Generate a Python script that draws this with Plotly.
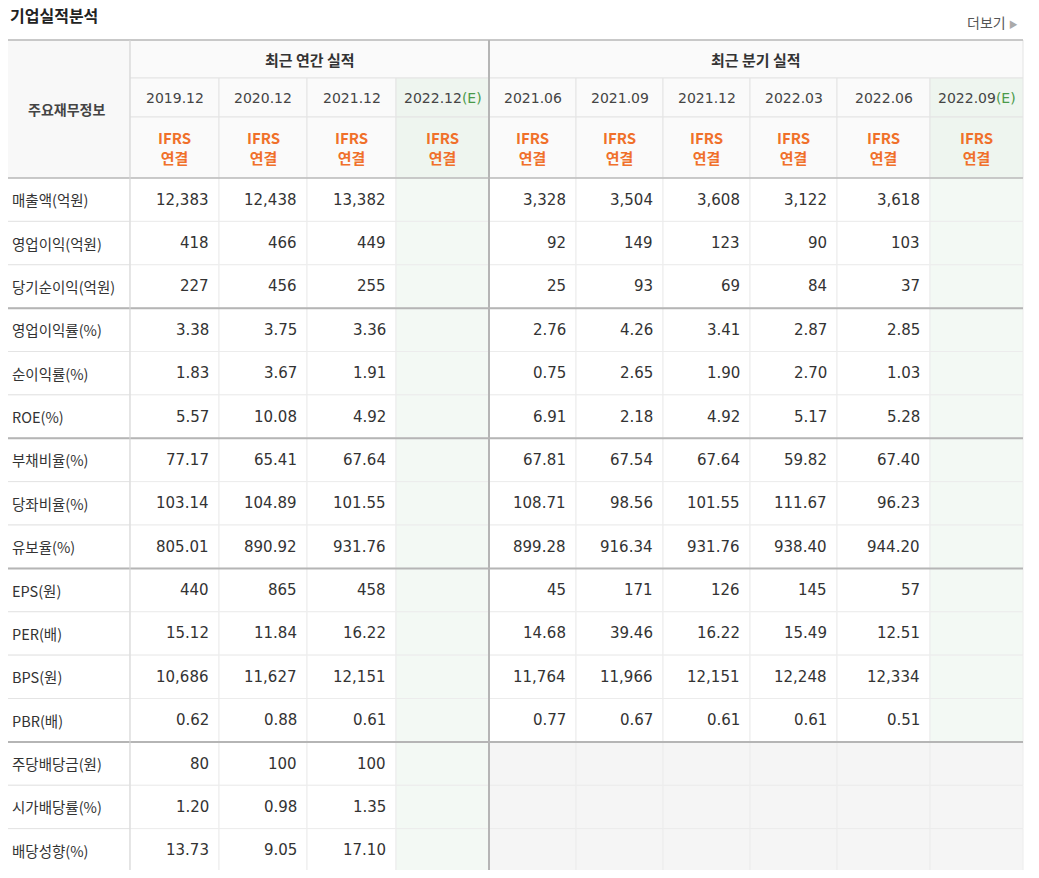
import plotly.graph_objects as go

title = "기업실적분석"
more = "더보기 ▸"
group_annual = "최근 연간 실적"
group_quarter = "최근 분기 실적"
corner = "주요재무정보"
annual_periods = ["2019.12", "2020.12", "2021.12", "2022.12(E)"]
quarter_periods = ["2021.06", "2021.09", "2021.12", "2022.03", "2022.06", "2022.09(E)"]
row_labels = ["매출액(억원)", "영업이익(억원)", "당기순이익(억원)", "영업이익률(%)", "순이익률(%)", "ROE(%)",
              "부채비율(%)", "당좌비율(%)", "유보율(%)", "EPS(원)", "PER(배)", "BPS(원)", "PBR(배)",
              "주당배당금(원)", "시가배당률(%)", "배당성향(%)"]
annual_values = [
    ["12,383", "12,438", "13,382", ""], ["418", "466", "449", ""], ["227", "456", "255", ""],
    ["3.38", "3.75", "3.36", ""], ["1.83", "3.67", "1.91", ""], ["5.57", "10.08", "4.92", ""],
    ["77.17", "65.41", "67.64", ""], ["103.14", "104.89", "101.55", ""], ["805.01", "890.92", "931.76", ""],
    ["440", "865", "458", ""], ["15.12", "11.84", "16.22", ""], ["10,686", "11,627", "12,151", ""],
    ["0.62", "0.88", "0.61", ""], ["80", "100", "100", ""], ["1.20", "0.98", "1.35", ""], ["13.73", "9.05", "17.10", ""],
]
quarter_values = [
    ["3,328", "3,504", "3,608", "3,122", "3,618", ""], ["92", "149", "123", "90", "103", ""],
    ["25", "93", "69", "84", "37", ""], ["2.76", "4.26", "3.41", "2.87", "2.85", ""],
    ["0.75", "2.65", "1.90", "2.70", "1.03", ""], ["6.91", "2.18", "4.92", "5.17", "5.28", ""],
    ["67.81", "67.54", "67.64", "59.82", "67.40", ""], ["108.71", "98.56", "101.55", "111.67", "96.23", ""],
    ["899.28", "916.34", "931.76", "938.40", "944.20", ""], ["45", "171", "126", "145", "57", ""],
    ["14.68", "39.46", "16.22", "15.49", "12.51", ""], ["11,764", "11,966", "12,151", "12,248", "12,334", ""],
    ["0.77", "0.67", "0.61", "0.61", "0.51", ""], ["", "", "", "", "", ""], ["", "", "", "", "", ""], ["", "", "", "", "", ""],
]
group_breaks = [3, 6, 9, 13]
dividend_start = 13

# layout geometry (page pixel coordinates; page body has an 8px margin)
W, H = 1039, 878
OFF = 8
col_edges = [2, 130, 219, 307, 396, 489, 576, 663, 750, 837, 930, 1023]
y_top, y_r1, y_r2, y_r3 = 40, 78, 117, 178
row_h = (872 - y_r3) / len(row_labels)

shapes, ann = [], []
KR = "Noto Sans CJK KR"
NUM = "DejaVu Sans"

def rect(x0, y0, x1, y1, fill, line="#e4e4e4"):
    shapes.append(dict(type="rect", x0=x0, y0=y0, x1=x1, y1=y1, fillcolor=fill,
                       line=dict(color=line, width=1), layer="below"))

def hline(x0, x1, y, color, w):
    shapes.append(dict(type="line", x0=x0, x1=x1, y0=y, y1=y, line=dict(color=color, width=w)))

def vline(x, y0, y1, color, w):
    shapes.append(dict(type="line", x0=x, x1=x, y0=y0, y1=y1, line=dict(color=color, width=w)))

def text(x, y, s, size=15, color="#333", font=KR, xanchor="center", bold=False):
    if bold:
        s = "<b>" + s + "</b>"
    ann.append(dict(x=x, y=y, text=s, showarrow=False, xanchor=xanchor, yanchor="middle",
                    font=dict(family=font, size=size, color=color)))

ncols = len(col_edges) - 1
rect(col_edges[0], y_top, col_edges[1], y_r3, "#f8f8f8")
rect(col_edges[1], y_top, col_edges[5], y_r1, "#fafafa")
rect(col_edges[5], y_top, col_edges[-1], y_r1, "#fafafa")
for c in range(1, ncols):
    x0, x1 = col_edges[c], col_edges[c + 1]
    fill = "#eef5ef" if c in (4, 10) else "#fafafa"
    rect(x0, y_r1, x1, y_r2, fill)
    rect(x0, y_r2, x1, y_r3, fill)

text((col_edges[0] + col_edges[1]) / 2, (y_top + y_r3) / 2, corner, 14, "#444", bold=True)
text((col_edges[1] + col_edges[5]) / 2, (y_top + y_r1) / 2, group_annual, 15, "#333", bold=True)
text((col_edges[5] + col_edges[-1]) / 2, (y_top + y_r1) / 2, group_quarter, 15, "#333", bold=True)
periods = annual_periods + quarter_periods
for i, p in enumerate(periods):
    c = i + 1
    xc = (col_edges[c] + col_edges[c + 1]) / 2
    if p.endswith("(E)"):
        p = p[:-3] + "<span style='color:#4a9a4a'>(E)</span>"
    text(xc, (y_r1 + y_r2) / 2, p, 14, "#444", NUM)
    text(xc, (y_r2 + y_r3) / 2, "IFRS<br>연결", 15, "#f0702a", bold=True)

for r, lab in enumerate(row_labels):
    y0 = y_r3 + r * row_h
    y1 = y0 + row_h
    yc = (y0 + y1) / 2
    rect(col_edges[0], y0, col_edges[1], y1, "#ffffff")
    text(col_edges[0] + 8, yc, lab, 14.5, "#333", xanchor="left")
    vals = annual_values[r] + quarter_values[r]
    for i, v in enumerate(vals):
        c = i + 1
        x0, x1 = col_edges[c], col_edges[c + 1]
        if c in (4, 10) and not (r >= dividend_start and c == 10):
            fill = "#f3f9f4"
        elif r >= dividend_start and c >= 5:
            fill = "#f5f5f5"
        else:
            fill = "#ffffff"
        rect(x0, y0, x1, y1, fill, "#ececec")
        if v:
            text(x1 - 8, yc, v, 15, "#333", NUM, xanchor="right")

y_end = y_r3 + len(row_labels) * row_h
hline(col_edges[0], col_edges[-1], y_top, "#bbbbbb", 1.5)
hline(col_edges[0], col_edges[-1], y_r3, "#bbbbbb", 1.5)
for b in group_breaks:
    hline(col_edges[0], col_edges[-1], y_r3 + b * row_h, "#b5b5b5", 2)
hline(col_edges[0], col_edges[-1], y_end, "#bbbbbb", 1.5)
vline(col_edges[5], y_top, y_end, "#b5b5b5", 2)
vline(col_edges[1], y_top, y_end, "#d8d8d8", 1)

text(OFF, 15, title, 16, "#222", xanchor="left", bold=True)
text(1020, 22, more.replace("▸", "<span style='color:#aaa;font-size:9px'>▶</span>"), 14, "#555", xanchor="right")

fig = go.Figure()
fig.update_layout(width=W - 2 * OFF, height=H - 2 * OFF, margin=dict(l=0, r=0, t=0, b=0),
                  paper_bgcolor="white", plot_bgcolor="white",
                  xaxis=dict(range=[OFF, W - OFF], visible=False, fixedrange=True),
                  yaxis=dict(range=[H - OFF, OFF], visible=False, fixedrange=True),
                  shapes=shapes, annotations=ann, showlegend=False)
fig.write_html("out.html")
